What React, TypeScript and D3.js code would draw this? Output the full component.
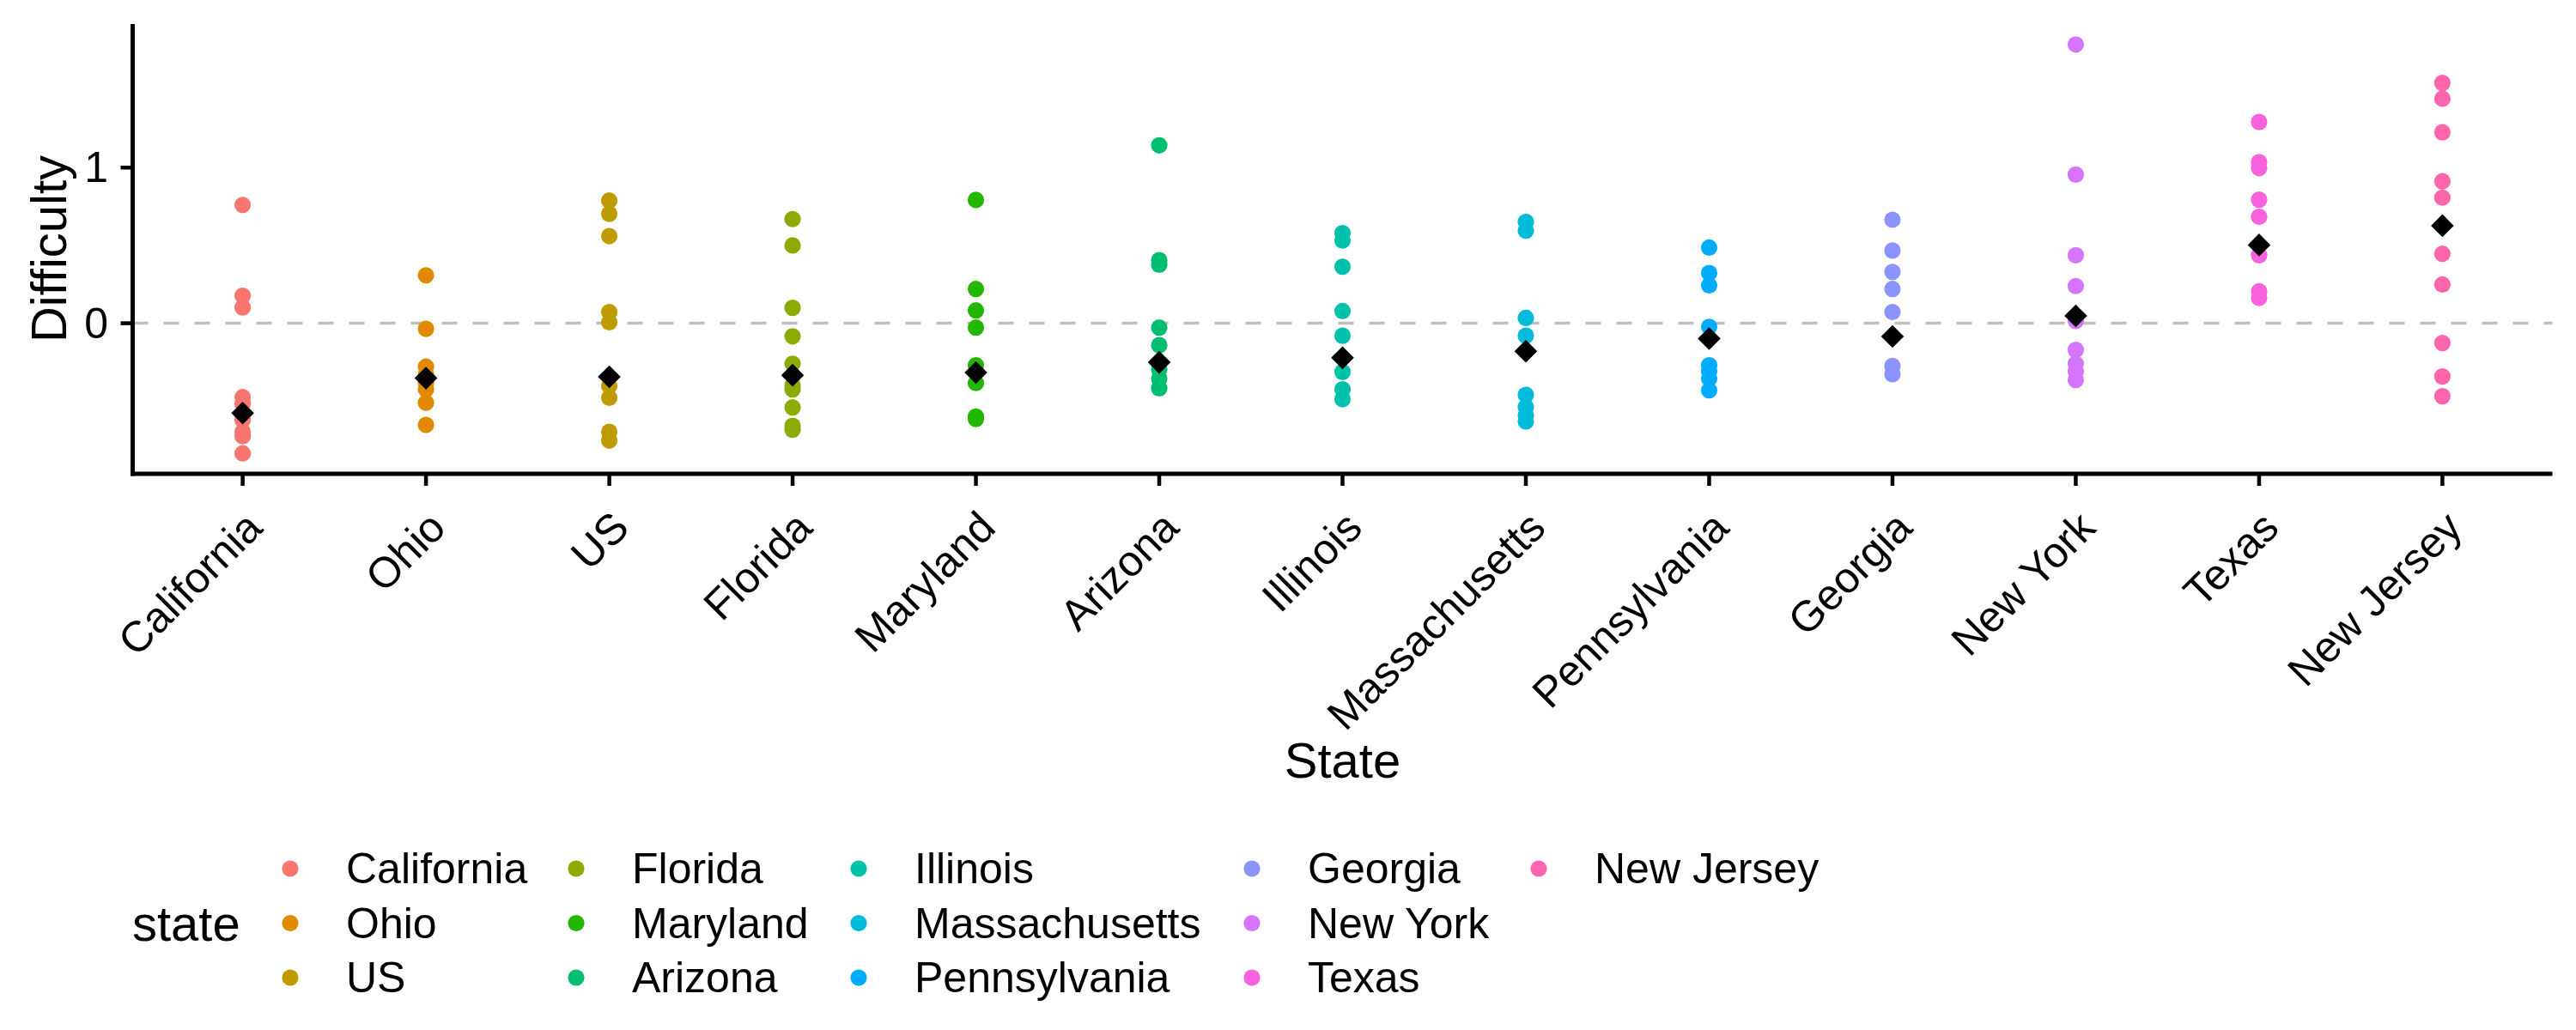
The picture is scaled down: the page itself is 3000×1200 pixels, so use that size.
import React from "react";
import * as d3 from "d3";

// ---- Data ----
const states = [
  "California", "Ohio", "US", "Florida", "Maryland", "Arizona", "Illinois",
  "Massachusetts", "Pennsylvania", "Georgia", "New York", "Texas", "New Jersey",
];

const stateColors = [
  "#F8766D", "#E18A00", "#BE9C00", "#8CAB00", "#24B700", "#00BE70", "#00C1AB",
  "#00BBDA", "#00ACFC", "#8B93FF", "#D575FE", "#F962DD", "#FF65AC",
];

const california = [0.76, 0.177, 0.101, -0.475, -0.517, -0.621, -0.697, -0.726, -0.836];
const ohio = [0.308, -0.036, -0.279, -0.33, -0.38, -0.425, -0.511, -0.653];
const us = [0.788, 0.703, 0.56, 0.072, 0.006, -0.403, -0.479, -0.697, -0.754];
const florida = [0.669, 0.5, 0.099, -0.084, -0.26, -0.4, -0.425, -0.541, -0.659, -0.684];
const maryland = [0.792, 0.22, 0.082, -0.028, -0.27, -0.384, -0.6, -0.615];
const arizona = [1.143, 0.405, 0.376, -0.028, -0.141, -0.298, -0.355, -0.418];
const illinois = [0.579, 0.532, 0.363, 0.078, -0.08, -0.313, -0.425, -0.488];
const massachusetts = [0.651, 0.595, 0.034, -0.08, -0.46, -0.539, -0.593, -0.631];
const pennsylvania = [0.486, 0.323, 0.243, -0.023, -0.27, -0.308, -0.355, -0.431];
const georgia = [0.665, 0.467, 0.33, 0.22, 0.072, -0.275, -0.327];
const newYork = [1.791, 0.955, 0.437, 0.239, 0.015, -0.171, -0.26, -0.308, -0.365];
const texas = [1.293, 1.035, 0.997, 0.794, 0.684, 0.437, 0.205, 0.163];
const newJersey = [1.544, 1.443, 1.227, 0.912, 0.807, 0.446, 0.249, -0.127, -0.342, -0.469];

// per-state summary shown as black diamonds
const centers = [-0.577, -0.353, -0.344, -0.334, -0.317, -0.251, -0.222, -0.18, -0.099, -0.085, 0.047, 0.503, 0.627];

const yTicks = [0, 1];

const seriesList = [
  california, ohio, us, florida, maryland, arizona, illinois,
  massachusetts, pennsylvania, georgia, newYork, texas, newJersey,
];

// legend layout: states listed column-wise, 3 rows
const legendRows = 3;

const FONT = "'Liberation Sans', Arial, Helvetica, sans-serif";

export default function App() {
  const W = 3000;
  const H = 1200;
  const left = 154.5;
  const right = 2972.5;
  const top = 28;
  const bottom = 552;
  const textSize = 50;
  const titleSize = 58;

  const points = states.flatMap((s, i) =>
    seriesList[i].map((v) => ({ state: s, value: v, color: stateColors[i] }))
  );
  const allVals = points.map((p) => p.value);
  const lo = d3.min(allVals) as number;
  const hi = d3.max(allVals) as number;
  const pad = (hi - lo) * 0.05;

  const x = d3.scalePoint<string>().domain(states).range([left, right]).padding(0.6);
  const y = d3.scaleLinear().domain([lo - pad, hi + pad]).range([bottom, top]);

  const diamond = d3.symbol().type(d3.symbolDiamond2).size(450)();

  const legendKeyX = [338, 671, 1000, 1458, 1792];
  const legendRowY = [1012, 1075.5, 1139];

  return (
    <svg
      width={W}
      height={H}
      viewBox={`0 0 ${W} ${H}`}
      style={{ position: "absolute", left: 0, top: 0, background: "#fff" }}
      fontFamily={FONT}
    >
      <rect x={0} y={0} width={W} height={H} fill="#fff" />

      {/* reference line at 0 */}
      <line
        x1={left}
        x2={right}
        y1={y(0)}
        y2={y(0)}
        stroke="#BEBEBE"
        strokeWidth={3.5}
        strokeDasharray="18 18"
      />

      {/* points */}
      {points.map((p, i) => (
        <circle key={i} cx={x(p.state)} cy={y(p.value)} r={9.6} fill={p.color} />
      ))}

      {/* diamonds */}
      {states.map((s, i) => (
        <path key={s} d={diamond as string} transform={`translate(${x(s)},${y(centers[i])})`} fill="#000" />
      ))}

      {/* axes */}
      <line x1={left} x2={left} y1={top} y2={bottom + 2.5} stroke="#000" strokeWidth={5} />
      <line x1={left - 2.5} x2={right} y1={bottom} y2={bottom} stroke="#000" strokeWidth={5} />

      {yTicks.map((t) => (
        <g key={t}>
          <line x1={left - 14} x2={left} y1={y(t)} y2={y(t)} stroke="#000" strokeWidth={4.5} />
          <text x={126} y={y(t)} textAnchor="end" dominantBaseline="central" fontSize={textSize} fill="#000">
            {t}
          </text>
        </g>
      ))}

      {states.map((s) => (
        <g key={s}>
          <line x1={x(s)} x2={x(s)} y1={bottom} y2={bottom + 14} stroke="#000" strokeWidth={4.5} />
          <text
            transform={`translate(${x(s)},${bottom + 40}) rotate(-45)`}
            textAnchor="end"
            dy="0.72em"
            fontSize={textSize}
            fill="#000"
          >
            {s}
          </text>
        </g>
      ))}

      {/* axis titles */}
      <text
        transform={`translate(56,${(top + bottom) / 2}) rotate(-90)`}
        textAnchor="middle"
        dominantBaseline="central"
        fontSize={titleSize}
        fill="#000"
      >
        Difficulty
      </text>
      <text x={(left + right) / 2} y={906} textAnchor="middle" fontSize={titleSize} fill="#000">
        State
      </text>

      {/* legend */}
      <text x={154} y={legendRowY[1]} dominantBaseline="central" fontSize={titleSize} fill="#000">
        state
      </text>
      {states.map((s, i) => {
        const col = Math.floor(i / legendRows);
        const row = i % legendRows;
        const kx = legendKeyX[col];
        const ky = legendRowY[row];
        return (
          <g key={s}>
            <circle cx={kx} cy={ky} r={9.6} fill={stateColors[i]} />
            <text x={kx + 65} y={ky} dominantBaseline="central" fontSize={textSize} fill="#000">
              {s}
            </text>
          </g>
        );
      })}
    </svg>
  );
}
